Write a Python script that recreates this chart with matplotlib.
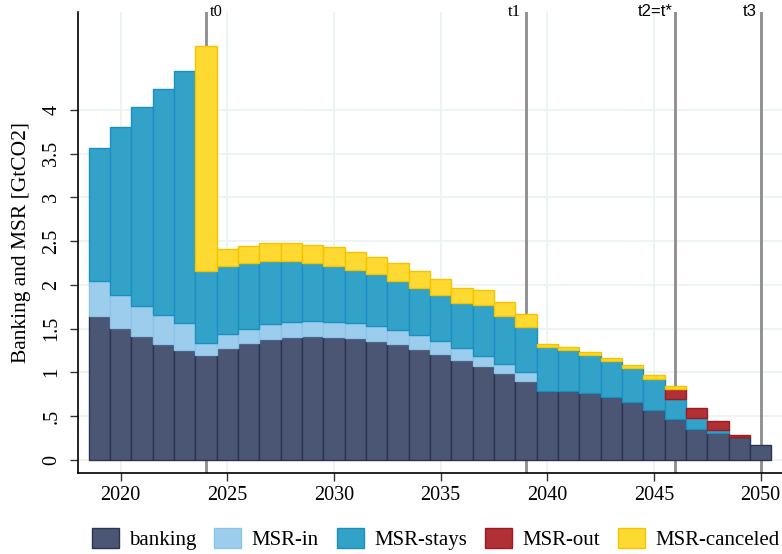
import numpy as np
import matplotlib.pyplot as plt
from matplotlib.patches import Patch

years = np.arange(2019, 2051)

banking = [1.64, 1.51, 1.42, 1.33, 1.26, 1.20, 1.28, 1.34, 1.38, 1.41, 1.42, 1.41,
           1.39, 1.36, 1.32, 1.27, 1.21, 1.14, 1.07, 0.99, 0.90, 0.79, 0.79, 0.76,
           0.72, 0.66, 0.57, 0.47, 0.35, 0.31, 0.26, 0.175]
msr_in = [0.40, 0.37, 0.34, 0.33, 0.30, 0.14, 0.16, 0.16, 0.17, 0.17, 0.17, 0.17,
          0.17, 0.17, 0.16, 0.155, 0.15, 0.14, 0.12, 0.11, 0.10, 0, 0, 0,
          0, 0, 0, 0, 0, 0, 0, 0]
msr_stays = [1.52, 1.92, 2.27, 2.58, 2.89, 0.82, 0.78, 0.75, 0.72, 0.69, 0.66, 0.64,
             0.615, 0.59, 0.57, 0.545, 0.52, 0.51, 0.58, 0.55, 0.52, 0.50, 0.47, 0.44,
             0.41, 0.39, 0.36, 0.23, 0.13, 0.03, 0, 0]
msr_out = [0, 0, 0, 0, 0, 0, 0, 0, 0, 0, 0, 0,
           0, 0, 0, 0, 0, 0, 0, 0, 0, 0, 0, 0,
           0, 0, 0, 0.11, 0.11, 0.11, 0.03, 0]
msr_canceled = [0, 0, 0, 0, 0, 2.57, 0.19, 0.20, 0.21, 0.21, 0.21, 0.21,
                0.20, 0.20, 0.20, 0.19, 0.19, 0.17, 0.17, 0.16, 0.15, 0.03, 0.03, 0.035,
                0.035, 0.035, 0.04, 0.03, 0, 0, 0, 0]

series = ["banking", "MSR-in", "MSR-stays", "MSR-out", "MSR-canceled"]
faces = ["#4b5574", "#9dcdec", "#33a2c9", "#b03035", "#fed931"]
edges = ["#2b3453", "#8cc3e6", "#1a8fc0", "#9e1b20", "#f5c400"]

events = [2024, 2039, 2046, 2050]

plt.rcParams['font.family'] = ['Liberation Serif', 'DejaVu Serif']

fig = plt.figure(figsize=(7.82, 5.54), dpi=100)
ax = fig.add_axes([78 / 782, 1 - 473 / 554, 1 - 78 / 782, (473 - 12) / 554])

bottom = np.zeros(len(years))
for vals, lab, fc, ec in zip([banking, msr_in, msr_stays, msr_out, msr_canceled],
                             series, faces, edges):
    vals = np.array(vals, dtype=float)
    m = vals > 0   # skip empty segments so no stray edge lines
    ax.bar(years[m], vals[m], width=1.0, bottom=bottom[m], color=fc,
           edgecolor=ec, linewidth=1.0, zorder=3)
    bottom += vals

for x in events:
    ax.axvline(x, color="#8c8c8c", lw=2, zorder=2)

ylim_top = 5.12
ax.set_xlim(2018, 2051)
ax.set_ylim(-0.15, ylim_top)

ax.text(2024 + 0.2, ylim_top, "t0", ha="left", va="center", fontsize=12)
ax.text(2039 - 0.25, ylim_top, "t1", ha="right", va="center", fontsize=12)
ax.text(2046 - 0.15, ylim_top, "t2=t*", ha="right", va="center", fontsize=12,
        family="Liberation Sans")
ax.text(2050 - 0.2, ylim_top, "t3", ha="right", va="center", fontsize=12,
        family="Liberation Sans")

yt = np.arange(0, 4.01, 0.5)
ax.set_yticks(yt)
ax.set_yticklabels(["0", ".5", "1", "1.5", "2", "2.5", "3", "3.5", "4"],
                   rotation=90, va="center")
ax.set_xticks(np.arange(2020, 2051, 5))
ax.tick_params(axis="both", labelsize=14.5, length=6, width=1, color="#333333")
ax.tick_params(axis="y", pad=6)
ax.tick_params(axis="x", pad=3)

ax.grid(True, color="#eaf2f3", lw=1.2, zorder=0)
ax.set_axisbelow(True)
for s in ["top", "right"]:
    ax.spines[s].set_visible(False)
for s in ["left", "bottom"]:
    ax.spines[s].set_linewidth(1.2)

ax.set_ylabel("Banking and MSR [GtCO2]", fontsize=15.5, labelpad=8)

handles = [Patch(facecolor=fc, edgecolor=ec, label=lab)
           for lab, fc, ec in zip(series, faces, edges)]
fig.legend(handles=handles, loc="center", bbox_to_anchor=(0.557, 1 - 539 / 554),
           ncol=5, frameon=False, fontsize=15, handlelength=1.3, handleheight=1.1,
           handletextpad=0.5, columnspacing=0.85, borderpad=0)

fig.savefig("out.png", dpi=100)
